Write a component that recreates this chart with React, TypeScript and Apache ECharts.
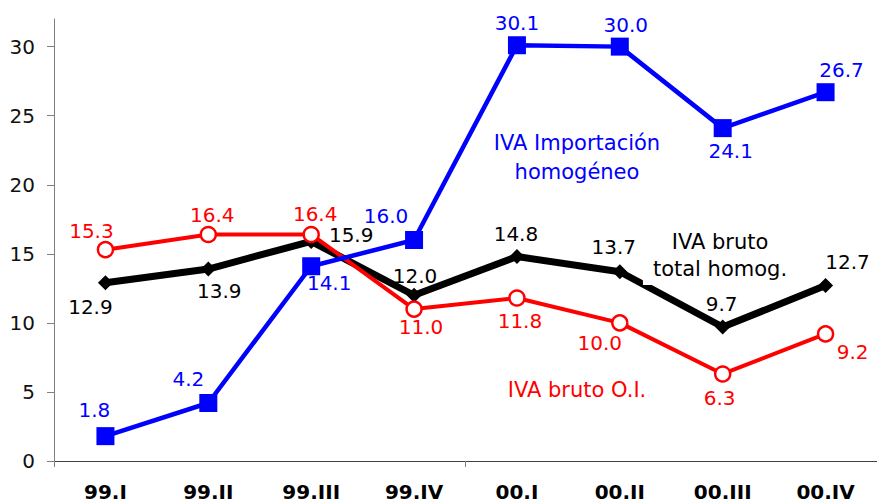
import React, { useEffect, useRef } from "react";
import * as echarts from "echarts";

const categories = ["99.I", "99.II", "99.III", "99.IV", "00.I", "00.II", "00.III", "00.IV"];
const importacion = [1.8, 4.2, 14.1, 16.0, 30.1, 30.0, 24.1, 26.7];
const brutoOI = [15.3, 16.4, 16.4, 11.0, 11.8, 10.0, 6.3, 9.2];
const brutoTotal = [12.9, 13.9, 15.9, 12.0, 14.8, 13.7, 9.7, 12.7];
const yTicks = [0, 5, 10, 15, 20, 25, 30];

const importacionName = "IVA Importación\nhomogéneo";
const brutoOIName = "IVA bruto O.I.";
const brutoTotalName = "IVA bruto\ntotal homog.";

// label offsets (style) relative to each point
const importacionLabelOffsets = [[-11, -26], [-20, -24], [18, 17], [-28, -24], [0, -22], [6, -22], [8, 23], [16, -22]];
const brutoOILabelOffsets = [[-14, -19], [4, -19], [4, -20], [7, 18], [3, 23], [-20, 20], [-3, 24], [27, 18]];
const brutoTotalLabelOffsets = [[-15, 24], [11, 22], [40, -6], [1, -19], [-1, -23], [-6, -25], [-1, -23], [22, -24]];

const FONT = "'DejaVu Sans', Verdana, sans-serif";

function withLabels(values: number[], offsets: number[][]) {
  return values.map((v, i) => ({ value: v, label: { offset: offsets[i] } }));
}

export default function App() {
  const ref = useRef<HTMLDivElement>(null);
  useEffect(() => {
    if (!ref.current) return;
    const chart = echarts.init(ref.current, null, { renderer: "svg" });
    const labelBase = (color: string) => ({
      show: true,
      position: "inside",
      color,
      fontSize: 20,
      fontFamily: FONT,
      align: "center",
      verticalAlign: "middle",
      formatter: (p: any) => Number(p.value).toFixed(1),
    });
    chart.setOption({
      animation: false,
      backgroundColor: "#ffffff",
      grid: { left: 54, right: 0, top: 19, bottom: 38, containLabel: false, outerBoundsMode: "none" },
      xAxis: {
        type: "category",
        data: categories,
        boundaryGap: true,
        axisLine: { show: true, lineStyle: { color: "#404040", width: 1 } },
        axisTick: {
          show: true,
          length: 6,
          interval: (i: number) => i === 0 || i === 4,
          lineStyle: { color: "#808080" },
        },
        splitLine: {
          show: true,
          interval: (i: number) => i === 4,
          lineStyle: { color: "#808080", width: 1 },
        },
        axisLabel: {
          fontSize: 20,
          fontWeight: "bold",
          fontFamily: FONT,
          color: "#000",
          margin: 21,
          interval: 0,
        },
      },
      yAxis: {
        type: "value",
        min: 0,
        max: 32,
        interval: 5,
        axisLine: { show: true, lineStyle: { color: "#808080", width: 1 } },
        axisTick: { show: true, length: 7, customValues: yTicks, lineStyle: { color: "#808080" } },
        splitLine: { show: false },
        axisLabel: {
          fontSize: 20,
          fontFamily: FONT,
          color: "#111",
          margin: 19,
          customValues: yTicks,
          formatter: (v: number) => (v % 5 === 0 ? String(v) : ""),
        },
      },
      series: [
        {
          name: brutoTotalName,
          type: "line",
          data: withLabels(brutoTotal, brutoTotalLabelOffsets),
          z: 2,
          symbol: "diamond",
          symbolSize: 15,
          lineStyle: { color: "#000000", width: 7 },
          itemStyle: { color: "#000000" },
          label: labelBase("#000000"),
        },
        {
          name: brutoOIName,
          type: "line",
          data: withLabels(brutoOI, brutoOILabelOffsets),
          z: 3,
          symbol: "circle",
          symbolSize: 15,
          showAllSymbol: true,
          lineStyle: { color: "#ff0000", width: 4 },
          itemStyle: { color: "#ffffff", borderColor: "#ff0000", borderWidth: 2.5 },
          label: labelBase("#ff0000"),
        },
        {
          name: importacionName,
          type: "line",
          data: withLabels(importacion, importacionLabelOffsets),
          z: 4,
          symbol: "rect",
          symbolSize: 18,
          lineStyle: { color: "#0000ff", width: 4.5 },
          itemStyle: { color: "#0000ff" },
          label: labelBase("#0000ff"),
        },
      ],
      graphic: [
        {
          type: "text",
          z: 100,
          style: {
            text: importacionName,
            x: 577,
            y: 128,
            align: "center",
            verticalAlign: "top",
            fontSize: 21,
            fontFamily: FONT,
            lineHeight: 29,
            fill: "#0000ff",
          },
        },
        {
          type: "text",
          z: 100,
          style: {
            text: brutoTotalName,
            x: 720,
            y: 226,
            align: "center",
            verticalAlign: "top",
            fontSize: 21,
            fontFamily: FONT,
            lineHeight: 27,
            fill: "#000000",
            backgroundColor: "#ffffff",
            padding: [2, 10, 3, 10],
          },
        },
        {
          type: "text",
          z: 100,
          style: {
            text: brutoOIName,
            x: 577,
            y: 390,
            align: "center",
            verticalAlign: "middle",
            fontSize: 21,
            fontFamily: FONT,
            fill: "#ff0000",
          },
        },
      ],
    });
    return () => chart.dispose();
  }, []);
  return <div ref={ref} style={{ position: "fixed", left: 0, top: 0, width: 877, height: 499 }} />;
}
